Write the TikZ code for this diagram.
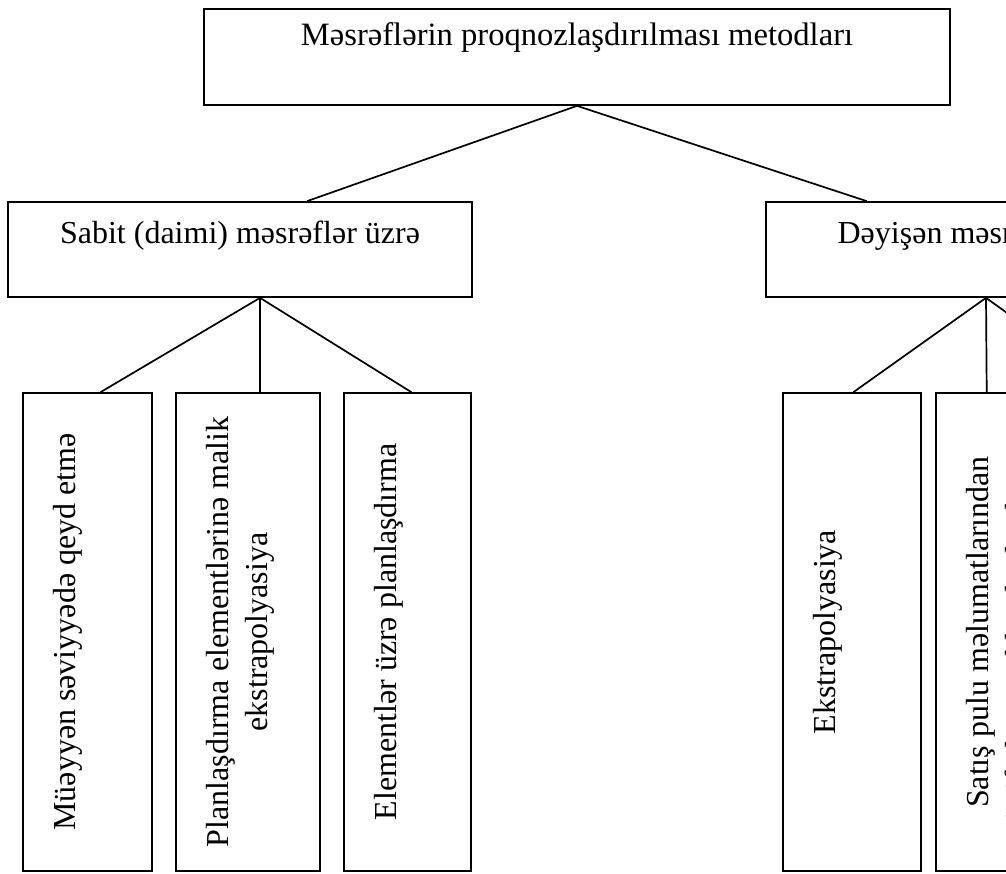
\documentclass[tikz,border=0pt]{standalone}
\usepackage{fontspec}
\setmainfont{Liberation Serif}
\usetikzlibrary{calc}

\tikzset{
  box/.style={draw, line width=0.85pt, inner sep=0pt},
  headbox/.style={box, minimum width=232pt, text height=20.5pt, text depth=27pt},
  leafbox/.style={box, rotate=90, minimum width=239pt, text height=26pt, align=center},
  link/.style={line width=0.85pt}
}

\begin{document}
\begin{tikzpicture}[x=0.5pt, y=-0.5pt,
    every node/.style={font=\fontsize{16}{19.5}\selectfont}]

  \useasboundingbox (0,0) rectangle (1006,873);
  \clip (0,0) rectangle (1006,873);

  \node[headbox, minimum width=373pt, text height=18pt, text depth=30pt,
        font=\fontsize{16.3}{19.5}\selectfont] (top) at (577,57)
    {Məsrəflərin proqnozlaşdırılması metodları};
  \node[headbox] (sabit) at (240,249.5) {Sabit (daimi) məsrəflər üzrə};
  \node[headbox, minimum width=220pt] (deyisen) at (986,249.5) {Dəyişən məsrəflər üzrə};

  \node[leafbox, text depth=38.5pt] (muey) at (87.5,632) {Müəyyən səviyyədə qeyd etmə};
  \node[leafbox, text height=45.5pt, text depth=26.5pt] (plan) at (248,632)
    {Planlaşdırma elementlərinə malik\\ ekstrapolyasiya};
  \node[leafbox, text depth=37.5pt] (elem) at (407.5,632) {Elementlər üzrə planlaşdırma};
  \node[leafbox, text depth=43pt] (ekst) at (852,632) {Ekstrapolyasiya};
  \node[leafbox, text height=45.5pt, text depth=26.5pt] (satis) at (1008,632)
    {Satış pulu məlumatlarından\\ istifadə etməklə planlaşdırma};
  \coordinate (third) at (1119,393);

  \coordinate (sabitJ) at ($(sabit.south west)!0.543!(sabit.south east)$);

  \draw[link] (top.south) -- ($(sabit.north west)!0.644!(sabit.north east)$);
  \draw[link] (top.south) -- ($(deyisen.north west)!0.23!(deyisen.north east)$);

  \draw[link] (sabitJ) -- ($(muey.north east)!0.6!(muey.south east)$);
  \draw[link] (sabitJ) -- ($(plan.north east)!0.583!(plan.south east)$);
  \draw[link] (sabitJ) -- ($(elem.north east)!0.53!(elem.south east)$);

  \draw[link] (deyisen.south) -- ($(ekst.north east)!0.51!(ekst.south east)$);
  \draw[link] (deyisen.south) -- ($(satis.north east)!0.354!(satis.south east)$);
  \draw[link] (deyisen.south) -- (third);

\end{tikzpicture}
\end{document}
